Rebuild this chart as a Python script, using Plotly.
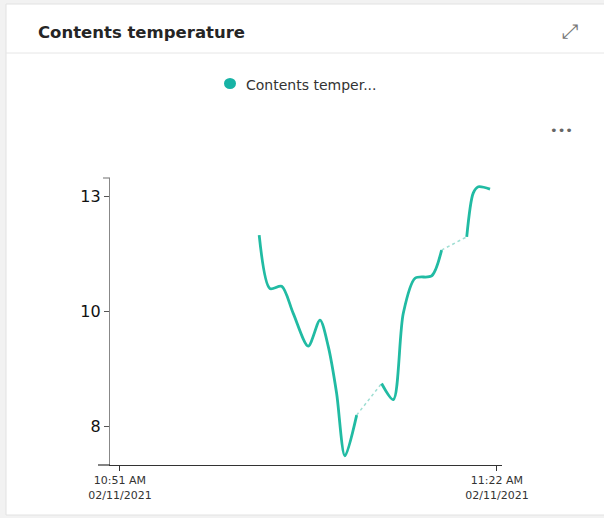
import plotly.graph_objects as go

# ---- data ----
times = ["2021-02-11 11:02:27", "2021-02-11 11:03:20", "2021-02-11 11:04:18", "2021-02-11 11:05:15",
         "2021-02-11 11:06:29", "2021-02-11 11:07:27", "2021-02-11 11:08:08", "2021-02-11 11:08:49",
         "2021-02-11 11:09:30", "2021-02-11 11:10:28", None,
         "2021-02-11 11:12:31", "2021-02-11 11:13:29", "2021-02-11 11:14:18", "2021-02-11 11:15:16",
         "2021-02-11 11:16:38", "2021-02-11 11:17:27", None,
         "2021-02-11 11:19:31", "2021-02-11 11:20:03", "2021-02-11 11:20:28", "2021-02-11 11:21:26"]
temps = [11.32, 10.39, 10.43, 9.96, 9.39, 9.84, 9.38, 8.57, 7.48, 8.19, None,
         8.74, 8.46, 9.96, 10.57, 10.61, 11.06, None,
         11.29, 12.05, 12.16, 12.12]
gap_times = ["2021-02-11 11:10:28", "2021-02-11 11:12:31", None, "2021-02-11 11:17:27", "2021-02-11 11:19:31"]
gap_temps = [8.19, 8.74, None, 11.06, 11.29]

x_tickvals = ["2021-02-11 10:51:00", "2021-02-11 11:22:00"]
x_ticktext = ["10:51 AM<br>02/11/2021", "11:22 AM<br>02/11/2021"]
y_tickvals = [8, 10, 12]
y_ticktext = ["8", "10", "13"]

series_name = "Contents temper..."
title_text = "Contents temperature"

TEAL = "#21bba3"

# plot area in pixels
L, R, T, B = 110, 502, 178, 465
W, H = 604, 518


def xp(px):
    return (px - L) / (R - L)


def yp(py):
    return (B - py) / (B - T)


fig = go.Figure()
fig.add_trace(go.Scatter(x=gap_times, y=gap_temps, mode="lines",
                         line=dict(color="#9fded3", width=1.5, dash="dot"),
                         showlegend=False, hoverinfo="skip"))
fig.add_trace(go.Scatter(x=times, y=temps, mode="lines", name=series_name,
                         line=dict(color=TEAL, width=2.8, shape="spline", smoothing=0.8),
                         connectgaps=False, showlegend=False))

shapes = [
    # card
    dict(type="rect", xref="paper", yref="paper", x0=xp(6), x1=xp(610), y0=yp(4), y1=yp(515),
         fillcolor="white", line=dict(color="#e2e2e2", width=1), layer="below"),
    # header separator
    dict(type="line", xref="paper", yref="paper", x0=xp(6), x1=xp(604), y0=yp(53), y1=yp(53),
         line=dict(color="#e6e6e6", width=1)),
    # legend dot
    dict(type="circle", xref="paper", yref="paper", x0=xp(224), x1=xp(236), y0=yp(78), y1=yp(89),
         fillcolor="#17b3a5", line=dict(width=0)),
    # x axis extension left
    dict(type="line", xref="paper", yref="paper", x0=xp(98), x1=xp(110), y0=0, y1=0,
         line=dict(color="#333333", width=1.2)),
    # y axis top end tick
    dict(type="line", xref="paper", yref="paper", x0=xp(103), x1=xp(110), y0=1, y1=1,
         line=dict(color="#888888", width=1.2)),
]

annotations = [
    dict(text="<b>" + title_text + "</b>", xref="paper", yref="paper", x=xp(36), y=yp(32),
         xanchor="left", yanchor="middle", showarrow=False,
         font=dict(family="DejaVu Sans", size=16.5, color="#252525")),
    dict(text="⤢", xref="paper", yref="paper", x=xp(570), y=yp(31), xanchor="center", yanchor="middle",
         showarrow=False, font=dict(family="DejaVu Sans", size=20, color="#777777")),
    dict(text=series_name, xref="paper", yref="paper", x=xp(244), y=yp(85), xanchor="left", yanchor="middle",
         showarrow=False, font=dict(family="DejaVu Sans", size=14, color="#333333")),
    dict(text="•••", xref="paper", yref="paper", x=xp(561), y=yp(130), xanchor="center", yanchor="middle",
         showarrow=False, font=dict(family="DejaVu Sans", size=13, color="#666666")),
]

fig.update_layout(
    width=W, height=H,
    margin=dict(l=L, r=W - R, t=T, b=H - B, pad=0),
    paper_bgcolor="#f2f2f2",
    plot_bgcolor="white",
    shapes=shapes,
    annotations=annotations,
    showlegend=False,
    xaxis=dict(type="date",
               range=["2021-02-11 10:50:11", "2021-02-11 11:22:25"],
               tickvals=x_tickvals, ticktext=x_ticktext,
               showgrid=False, zeroline=False,
               showline=True, linecolor="#333333", linewidth=1.2,
               ticks="outside", ticklen=5, tickcolor="#333333",
               tickfont=dict(family="DejaVu Sans", size=11, color="#333333")),
    yaxis=dict(range=[7.322, 12.313],
               tickvals=y_tickvals, ticktext=y_ticktext,
               showgrid=False, zeroline=False,
               showline=True, linecolor="#888888", linewidth=1.2,
               ticks="outside", ticklen=5, tickcolor="#555555",
               tickfont=dict(family="DejaVu Sans", size=16, color="#111111")),
)

fig.write_html("out.html", config={"displayModeBar": False},
               post_script="document.body.style.margin='0px';")
